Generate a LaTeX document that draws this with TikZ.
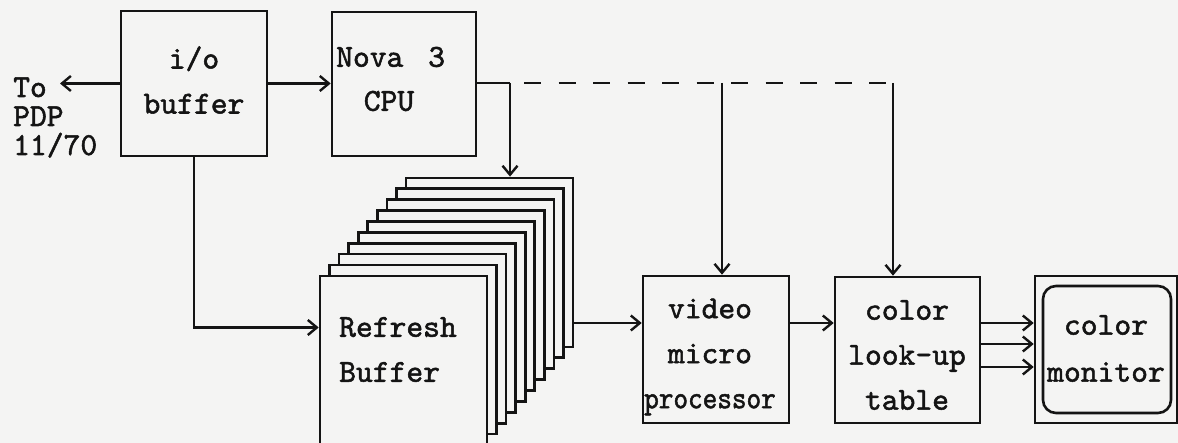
\documentclass[tikz,border=0pt]{standalone}
\usepackage{fontspec}
\newfontfamily\typer{lmmono10-regular.otf}[FakeBold=1.6]
\usetikzlibrary{arrows.meta,calc}

\definecolor{paper}{RGB}{244,244,243}
\definecolor{ink}{RGB}{20,20,20}

\tikzset{
  plain/.style={draw=ink, line width=2.4pt},
  wire/.style={plain, -{Straight Barb[length=9pt,width=15pt,line width=2.4pt]}},
  box/.style={draw=ink, line width=2.6pt, fill=paper, inner sep=0pt},
  txt/.style={text=ink, font=\fontsize{32}{45}\typer, inner sep=0pt, align=center},
}

\begin{document}
\begin{tikzpicture}[x=1pt,y=-1pt]
  \useasboundingbox (0,0) rectangle (1178,443);
  \clip (0,0) rectangle (1178,443);
  \fill[paper] (0,0) rectangle (1178,443);

  % processing boxes
  \node[box, minimum width=146pt, minimum height=145pt] (io)   at (194,83.5) {};
  \node[box, minimum width=144pt, minimum height=144pt] (nova) at (404,84) {};

  % stack of refresh buffer planes, drawn from the back plane forward
  \foreach \k in {9,...,0}{
    \node[box, minimum width=167pt, minimum height=169pt] (card\k)
      at ({403.5+9.55*\k},{360.5-10.9*\k}) {};
  }

  \node[box, minimum width=146pt, minimum height=147pt] (video) at (716,349.5) {};
  \node[box, minimum width=145pt, minimum height=146pt] (lut)   at (907.5,350) {};
  \node[box, minimum width=142pt, minimum height=147pt] (mon)   at (1106,349.5) {};
  \node[box, rounded corners=13pt, minimum width=128pt, minimum height=127pt] (screen) at (1107,349.5) {};

  % labels
  \node[txt, anchor=base west] (totxt)  at (13,97)  {To};
  \node[txt, anchor=base west] (pdptxt) at (13,126) {PDP};
  \node[txt, anchor=base west] (numtxt) at (13,155) {11/70};
  \node[txt] (iotxt) at (194,80) {i/o\\buffer};
  \node[txt, anchor=west] (novatxt) at (336,57) {Nova\hspace{8pt} 3};
  \node[txt] (cputxt) at (389,101) {CPU};
  \node[txt, align=left, anchor=west] (reftxt) at (339,349.5) {Refresh\\Buffer};
  \node[txt] (videotxt) at (710,357) {video\\micro\\\scalebox{0.87}[1]{processor}};
  \node[txt] (luttxt) at (907,355) {color\\look-up\\table};
  \node[txt, font=\fontsize{32}{47}\typer] (montxt) at (1106,348.5) {color\\monitor};

  % routing points
  \coordinate (pdp)   at (60,85);
  \coordinate (split) at (510,83);
  \coordinate (tapL)  at (722,83);
  \coordinate (tapR)  at (893,83);
  \coordinate (bus)   at (0,323);

  % connectors
  \draw[wire] (io.west) -- (io.west -| pdp);
  \draw[wire] (io.east) -- (io.east -| nova.west);
  \draw[plain] (nova.east |- split) -- (split);
  \draw[wire] (split) -- (split |- card9.north);
  \draw[plain, dash pattern=on 17pt off 17.5pt, dash phase=20.5pt] (split) -- (tapR);
  \draw[wire] (tapL) -- (tapL |- video.north);
  \draw[wire] (tapR) -- (tapR |- lut.north);
  \draw[wire] (io.south) |- ($(card0.west)+(0,-33)$);
  \draw[wire] (card9.east |- bus) -- (video.west |- bus);
  \draw[wire] (video.east |- bus) -- (lut.west |- bus);
  \foreach \yy in {323,344,367}{
    \draw[wire] (lut.east |- 0,\yy) -- (mon.west |- 0,\yy);
  }
\end{tikzpicture}
\end{document}
